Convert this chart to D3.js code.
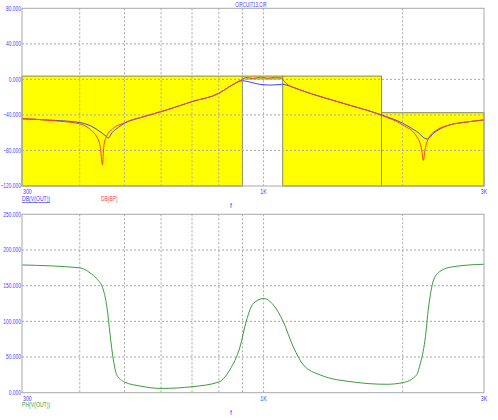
<!DOCTYPE html>
<html>
<head>
<meta charset="utf-8">
<script src="https://cdn.jsdelivr.net/npm/d3@7"></script>
<style>
body { margin: 0; background: #fff; }
text { font-family: "Liberation Sans", Arial, sans-serif; font-size: 7px; }
</style>
</head>
<body>
<div id="chart"></div>
<script>
// tick labels and grid positions
var tickFreqs = [300, 1000, 3000];
var tickFreqLabels = ["300", "1K", "3K"];
var gridFreqs = [400, 500, 600, 700, 800, 900, 1000, 2000];
var dbTicks = [80, 40, 0, -40, -80, -120];
var phTicks = [250, 200, 150, 100, 50, 0];

// yellow spec mask (Hz, dB)
var maskF0 = [300, 900, 1100, 1800];
var maskF1 = [900, 1100, 1800, 3000];
var maskTop = [3.7, 3.7, 3.7, -37.5];
var maskBottom = [-120, 0.5, -120, -120];

// DB(V(OUT))
var outFreq = [300, 350, 400, 425, 443, 455, 461, 470, 485, 500, 550, 617, 700, 800, 845, 880, 900, 934, 982, 1032, 1070, 1094, 1122, 1180, 1260, 1488, 1800, 2000, 2145, 2262, 2334, 2450, 2532, 2750, 3000];
var outDb = [-44.5, -46, -48.6, -53, -59, -63.5, -66, -60, -54, -49.3, -42, -34.4, -25, -15.7, -8, -3, -1.5, -3, -5.6, -6.4, -6, -5.6, -6.4, -10.5, -15.7, -27, -40, -49.3, -58.7, -67.2, -60.5, -54, -51.2, -48, -45.6];

// DB(BP)
var bpFreq = [300, 350, 400, 425, 435, 443, 448, 451, 457, 473, 500, 550, 617, 700, 800, 845, 880, 900, 915, 950, 985, 1020, 1060, 1094, 1100, 1122, 1180, 1260, 1488, 1800, 2000, 2145, 2199, 2217, 2236, 2276, 2374, 2532, 2750, 3000];
var bpDb = [-44, -46.5, -50, -58, -64.3, -75.5, -96, -75.5, -64.3, -55, -49, -42, -34.4, -25, -15.7, -8, -2.5, 0, 2.2, 1.2, 2.5, 1.3, 2.4, 1.5, 0, -5, -10.5, -15.7, -27, -40.5, -51.2, -64.3, -79.2, -91.2, -79.2, -66.1, -56.8, -51.2, -48, -45.6];

// PH(V(OUT))
var phFreq = [300, 400, 421, 435, 450, 459, 465, 473, 481, 500, 540, 600, 700, 800, 845, 889, 919, 950, 1000, 1050, 1103, 1160, 1219, 1325, 1564, 1847, 2000, 2145, 2180, 2236, 2276, 2334, 2409, 2574, 3000];
var phOut = [179, 175, 168, 160, 144, 116, 83, 46, 25, 15, 9.4, 6, 8.4, 15, 32, 64, 102, 125, 132, 123, 99.5, 64, 39, 25, 15, 11.8, 14, 25, 39, 74, 120, 158, 170, 176.6, 180];

var W = 498, H = 420;
var blue = '#4444ff', red = '#ff3c3c', green = '#3c9c3c', gridc = '#a8a8a8';

var svg = d3.select('#chart').append('svg')
        .attr('width', W)
        .attr('height', H);

var xscale = d3.scaleLog().domain([300, 3000]).range([22, 484]);
var ydb = d3.scaleLinear().domain([-120, 80]).range([186, 8.3]);
var yph = d3.scaleLinear().domain([0, 250]).range([392.7, 214.3]);

// squeeze text to look like the narrow plot font
function narrow(sel, k) {
        sel.each(function () {
                var len = this.getComputedTextLength();
                d3.select(this)
                        .attr('textLength', len * (k || 0.7))
                        .attr('lengthAdjust', 'spacingAndGlyphs');
        });
}

function grid(yscale, yticks) {
        var g = svg.append('g');
        g.selectAll('line.v').data(gridFreqs).enter().append('line')
                .attr('x1', function (d) { return xscale(d); })
                .attr('x2', function (d) { return xscale(d); })
                .attr('y1', yscale.range()[1])
                .attr('y2', yscale.range()[0])
                .attr('stroke', gridc)
                .attr('stroke-dasharray', '2,2');
        g.selectAll('line.h').data(yticks.slice(1, -1)).enter().append('line')
                .attr('x1', 22)
                .attr('x2', 484)
                .attr('y1', function (d) { return yscale(d); })
                .attr('y2', function (d) { return yscale(d); })
                .attr('stroke', gridc)
                .attr('stroke-dasharray', '2,2');
}

function frame(yscale, yticks) {
        var y0 = yscale.range()[0], y1 = yscale.range()[1];
        svg.append('rect')
                .attr('x', 22).attr('y', y1)
                .attr('width', 462).attr('height', y0 - y1)
                .attr('fill', 'none')
                .attr('stroke', gridc);
        svg.append('g').selectAll('text').data(yticks).enter().append('text')
                .attr('x', 21)
                .attr('y', function (d) { return yscale(d) + 2.3; })
                .attr('text-anchor', 'end')
                .attr('fill', blue)
                .text(function (d) { return d3.format('.3f')(d); })
                .call(narrow, 0.7);
        svg.append('g').selectAll('text').data(tickFreqs).enter().append('text')
                .attr('x', function (d, i) { return xscale(d) + (i == 0 ? 1 : 0); })
                .attr('y', y0 + 8)
                .attr('text-anchor', function (d, i) { return i == 0 ? 'start' : 'middle'; })
                .attr('fill', blue)
                .text(function (d, i) { return tickFreqLabels[i]; })
                .call(narrow, 0.75);
        svg.append('text')
                .attr('x', 230).attr('y', y0 + 22)
                .attr('fill', blue)
                .text('f');
}

// ---- top plot: magnitude ----
var masks = d3.range(maskF0.length);
svg.append('g').selectAll('rect').data(masks).enter().append('rect')
        .attr('x', function (i) { return xscale(maskF0[i]); })
        .attr('y', function (i) { return ydb(maskTop[i]); })
        .attr('width', function (i) { return xscale(maskF1[i]) - xscale(maskF0[i]); })
        .attr('height', function (i) { return ydb(maskBottom[i]) - ydb(maskTop[i]); })
        .attr('fill', '#ffff00')
        .attr('stroke', '#8a8a55')
        .attr('stroke-width', 1);

grid(ydb, dbTicks);

var dbline = d3.line()
        .x(function (d) { return xscale(d[0]); })
        .y(function (d) { return ydb(d[1]); })
        .curve(d3.curveMonotoneX);

svg.append('path')
        .datum(d3.zip(outFreq, outDb))
        .attr('fill', 'none')
        .attr('stroke', blue)
        .attr('stroke-width', 1)
        .attr('d', dbline);

svg.append('path')
        .datum(d3.zip(bpFreq, bpDb))
        .attr('fill', 'none')
        .attr('stroke', red)
        .attr('stroke-width', 1)
        .attr('d', dbline);

frame(ydb, dbTicks);

svg.append('text')
        .attr('x', 251).attr('y', 7)
        .attr('text-anchor', 'middle')
        .attr('fill', blue)
        .text('CIRCUIT13.CIR')
        .call(narrow, 0.63);
svg.append('text')
        .attr('x', 22).attr('y', 201)
        .attr('fill', blue)
        .attr('text-decoration', 'underline')
        .text('DB(V(OUT))')
        .call(narrow, 0.73);
svg.append('text')
        .attr('x', 101).attr('y', 201)
        .attr('fill', red)
        .text('DB(BP)')
        .call(narrow, 0.7);

// ---- bottom plot: phase ----
grid(yph, phTicks);

var phline = d3.line()
        .x(function (d) { return xscale(d[0]); })
        .y(function (d) { return yph(d[1]); })
        .curve(d3.curveMonotoneX);

svg.append('path')
        .datum(d3.zip(phFreq, phOut))
        .attr('fill', 'none')
        .attr('stroke', green)
        .attr('stroke-width', 1)
        .attr('d', phline);

frame(yph, phTicks);

svg.append('text')
        .attr('x', 22).attr('y', 407)
        .attr('fill', green)
        .text('PH(V(OUT))')
        .call(narrow, 0.73);
</script>
</body>
</html>
